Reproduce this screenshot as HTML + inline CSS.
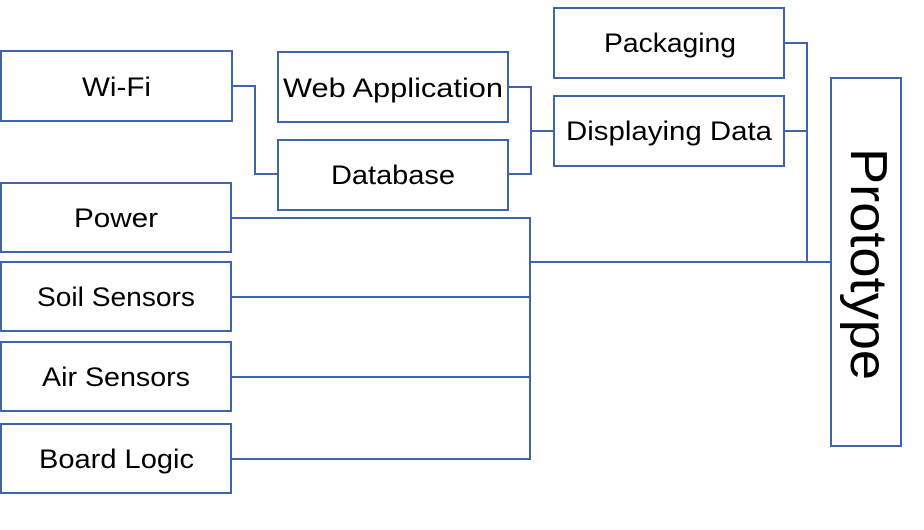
<!DOCTYPE html>
<html><head><meta charset="utf-8"><style>
body{margin:0;background:#fff;width:924px;height:525px;overflow:hidden}
</style></head><body>
<svg width="924" height="525" xmlns="http://www.w3.org/2000/svg" font-family="Liberation Sans, sans-serif">
<g fill="#fff" stroke="#3f64a9" stroke-width="2">
<rect x="1" y="51" width="231" height="70"/>
<rect x="278" y="52" width="230" height="70"/>
<rect x="278" y="140" width="230" height="70"/>
<rect x="554" y="8" width="230" height="70"/>
<rect x="554" y="96" width="230" height="70"/>
<rect x="1" y="183" width="230" height="69"/>
<rect x="1" y="262" width="230" height="69"/>
<rect x="1" y="342" width="230" height="69"/>
<rect x="1" y="424" width="230" height="69"/>
<rect x="831" y="78" width="70" height="368"/>
</g>
<g fill="none" stroke="#3f64a9" stroke-width="2">
<polyline points="232,86 255,86 255,174 278,174"/>
<polyline points="508,87 531,87 531,174 508,174"/>
<line x1="531" y1="131" x2="554" y2="131"/>
<polyline points="784,43 807,43 807,262"/>
<line x1="784" y1="131" x2="807" y2="131"/>
<polyline points="231,218 530,218 530,459 231,459"/>
<line x1="231" y1="297" x2="530" y2="297"/>
<line x1="231" y1="377" x2="530" y2="377"/>
<line x1="530" y1="262" x2="831" y2="262"/>
</g>
<g font-size="27" fill="#000" lengthAdjust="spacingAndGlyphs">
<text x="82" y="96" textLength="69" lengthAdjust="spacingAndGlyphs">Wi-Fi</text>
<text x="283" y="97" textLength="220" lengthAdjust="spacingAndGlyphs">Web Application</text>
<text x="331" y="184" textLength="124" lengthAdjust="spacingAndGlyphs">Database</text>
<text x="604" y="52" textLength="132" lengthAdjust="spacingAndGlyphs">Packaging</text>
<text x="566" y="140" textLength="206" lengthAdjust="spacingAndGlyphs">Displaying Data</text>
<text x="74" y="227" textLength="84" lengthAdjust="spacingAndGlyphs">Power</text>
<text x="37" y="306" textLength="158" lengthAdjust="spacingAndGlyphs">Soil Sensors</text>
<text x="42" y="386" textLength="148" lengthAdjust="spacingAndGlyphs">Air Sensors</text>
<text x="39" y="468" textLength="155" lengthAdjust="spacingAndGlyphs">Board Logic</text>
<text transform="translate(851,148) rotate(90)" font-size="52" textLength="232" lengthAdjust="spacingAndGlyphs">Prototype</text>
</g>
</svg>
</body></html>
